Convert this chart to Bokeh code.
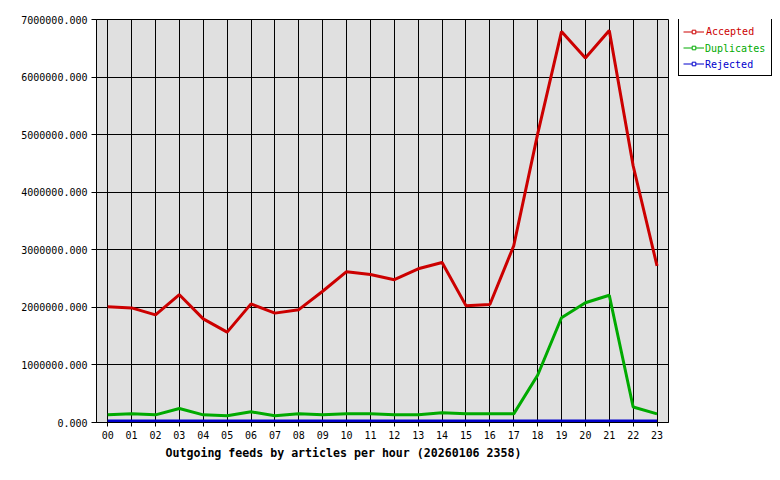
from bokeh.plotting import figure
from bokeh.layouts import row
from bokeh.models import (FixedTicker, PrintfTickFormatter, Legend, LegendItem,
                          Title, Range1d)
from bokeh.embed import file_html
from bokeh.resources import INLINE

hours = list(range(24))
hour_labels = [f"{h:02d}" for h in hours]

accepted = [2010000, 1990000, 1870000, 2220000, 1800000, 1570000, 2060000, 1900000,
            1960000, 2280000, 2620000, 2570000, 2480000, 2670000, 2780000, 2030000,
            2050000, 3070000, 5010000, 6790000, 6330000, 6810000, 4460000, 2720000]
duplicates = [133000, 150000, 133000, 243000, 133000, 116000, 185000, 116000,
              150000, 133000, 150000, 150000, 133000, 133000, 168000, 150000,
              150000, 150000, 820000, 1820000, 2080000, 2210000, 270000, 150000]
rejected = [25000] * 24

y_ticks = [0, 1000000, 2000000, 3000000, 4000000, 5000000, 6000000, 7000000]
series_names = ["Accepted", "Duplicates", "Rejected"]
series_colors = ["#cc0000", "#00aa00", "#0000cc"]
title_text = "Outgoing feeds by articles per hour (20260106 2358)"

FONT = "DejaVu Sans Mono"

p = figure(width=676, height=472, output_backend="svg", toolbar_location=None,
           x_range=Range1d(-0.47, 23.48), y_range=Range1d(0, 7000000),
           min_border_left=96, min_border_right=8, min_border_top=19,
           min_border_bottom=50)

p.background_fill_color = "#e0e0e0"
p.border_fill_color = "white"
p.outline_line_color = "black"
p.outline_line_alpha = 1.0
p.outline_line_width = 1

p.xgrid.ticker = FixedTicker(ticks=hours)
p.ygrid.ticker = FixedTicker(ticks=y_ticks)
for g in (p.xgrid, p.ygrid):
    g.grid_line_color = "black"
    g.grid_line_alpha = 1.0
    g.grid_line_width = 1

p.xaxis.ticker = FixedTicker(ticks=hours)
p.xaxis.major_label_overrides = {h: lab for h, lab in zip(hours, hour_labels)}
p.yaxis.ticker = FixedTicker(ticks=y_ticks)
p.yaxis.formatter = PrintfTickFormatter(format="%.3f")
for ax in (p.xaxis, p.yaxis):
    ax.axis_line_color = "black"
    ax.major_tick_line_color = "black"
    ax.major_tick_in = 0
    ax.minor_tick_line_color = None
    ax.major_label_text_font = FONT
    ax.major_label_text_font_size = "10px"
    ax.major_label_text_color = "black"
p.xaxis.major_tick_out = 4
p.xaxis.major_label_standoff = 4
p.yaxis.major_tick_out = 5
p.yaxis.major_label_standoff = 4

values = [accepted, duplicates, rejected]
for vals, col in zip(values, series_colors):
    p.line(hours, vals, line_color=col, line_width=3)

t = Title(text=title_text, align="left", offset=69, text_font=FONT,
          text_font_size="11.6px", text_font_style="bold", text_color="black",
          standoff=4)
p.add_layout(t, "below")

# legend panel to the right of the chart (its frame is aligned with the chart's frame).
# The series are drawn here too, but fall outside this panel's (negative) y range,
# so only their legend glyphs are seen.
lp = figure(width=96, height=472, output_backend="svg", toolbar_location=None,
            x_range=Range1d(0, 1), y_range=Range1d(-2, -1),
            min_border_left=0, min_border_right=0, min_border_top=0,
            min_border_bottom=0)
lp.axis.visible = False
lp.grid.visible = False
lp.outline_line_color = None
lp.background_fill_color = "white"
lp.border_fill_color = "white"

vis_rs = []
ghost_rs = []
for vals, col in zip(values, series_colors):
    lr = lp.line(hours, vals, line_color=col, line_width=1)
    mr = lp.scatter(hours, vals, marker="square", size=4, line_color=col,
                    fill_color="white")
    vis_rs.append([lr, mr])
    gl = lp.line(hours, vals, line_color=col, line_alpha=0.0)
    ghost_rs.append([gl])

for k, col in enumerate(series_colors):
    items = []
    for i in range(3):
        rs = vis_rs[i] if k == 0 else ghost_rs[i]
        items.append(LegendItem(label=series_names[i] if i == k else " ",
                                renderers=rs))
    leg = Legend(items=items, location=(2, 346), padding=4, spacing=0, margin=0,
                 label_height=16, glyph_height=9, glyph_width=21, label_standoff=2,
                 label_width=61, label_text_font=FONT, label_text_font_size="10px",
                 label_text_color=col,
                 border_line_color="black", border_line_alpha=1.0,
                 border_line_width=1)
    if k == 0:
        leg.background_fill_color = "white"
        leg.background_fill_alpha = 1.0
    else:
        leg.background_fill_alpha = 0.0
        leg.border_line_alpha = 0.0
    lp.add_layout(leg)

layout = row(p, lp, spacing=0)

open("out.html", "w").write(file_html(layout, INLINE))
